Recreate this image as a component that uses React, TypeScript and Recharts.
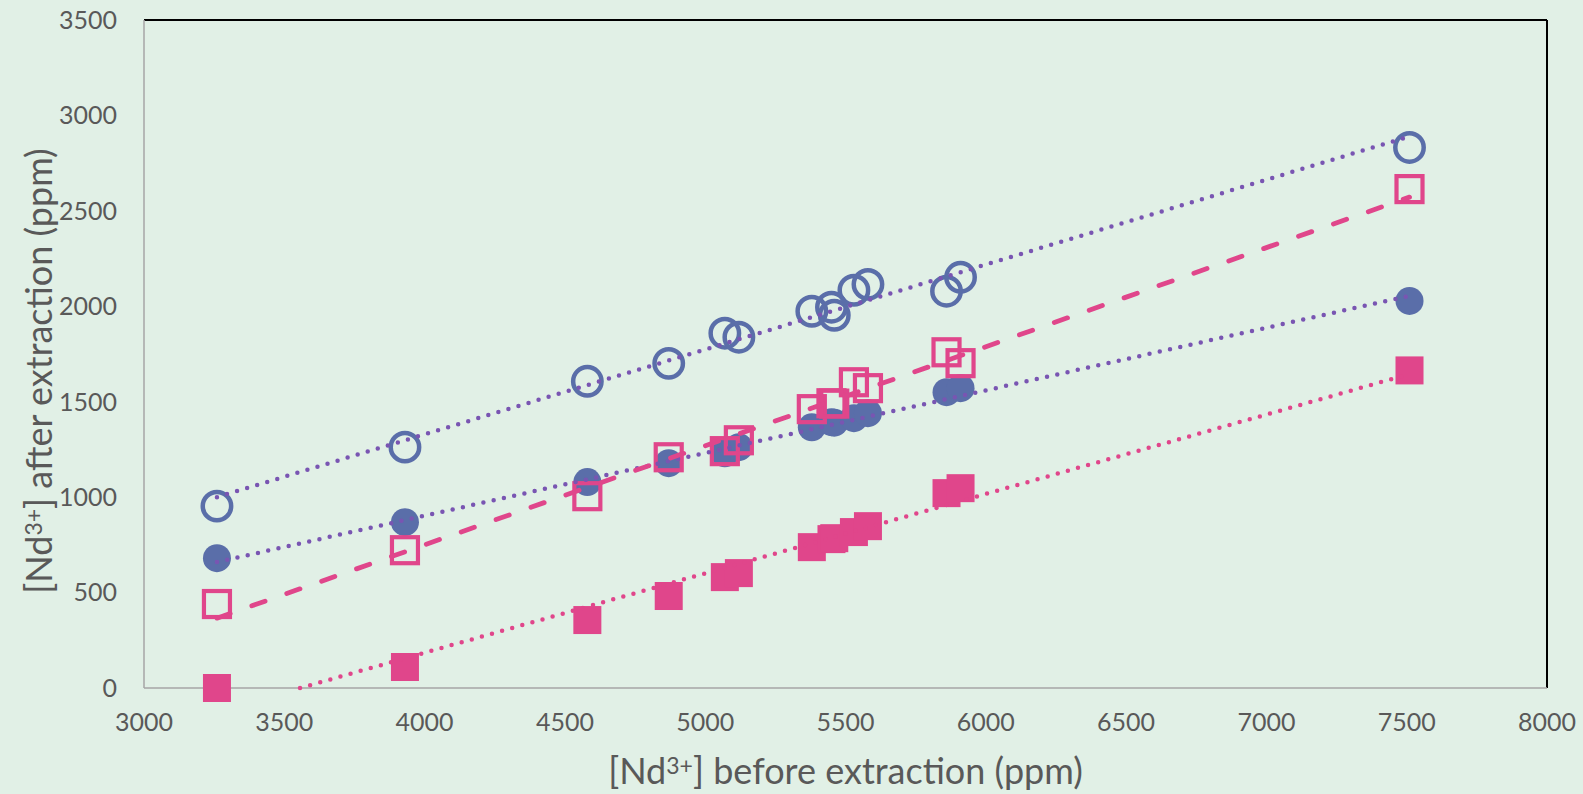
import React from 'react';
import { ScatterChart, Scatter, XAxis, YAxis, ReferenceLine, Label } from 'recharts';

// sample concentrations before extraction (ppm), shared by all four series
const beforePpm = [3260, 3930, 4580, 4870, 5070, 5120, 5380, 5450, 5460, 5530, 5580, 5860, 5910, 7510];

// concentrations after extraction (ppm)
const openCircleAfter = [953, 1262, 1607, 1701, 1859, 1838, 1974, 1995, 1953, 2084, 2115, 2079, 2152, 2832];
const filledCircleAfter = [680, 869, 1079, 1178, 1230, 1262, 1366, 1393, 1390, 1414, 1440, 1550, 1571, 2028];
const openSquareAfter = [440, 722, 1005, 1209, 1241, 1298, 1461, 1492, 1490, 1602, 1571, 1759, 1702, 2614];
const filledSquareAfter = [0, 110, 356, 482, 581, 602, 738, 780, 785, 817, 848, 1021, 1047, 1664];

// trend line end points, as drawn in the figure
const openCircleTrendX = [3260, 7510];
const openCircleTrendY = [1000, 2890];
const filledCircleTrendX = [3260, 7510];
const filledCircleTrendY = [660, 2055];
const openSquareTrendX = [3260, 7510];
const openSquareTrendY = [366, 2572];
const filledSquareTrendX = [3556, 7510];
const filledSquareTrendY = [0, 1645];

const xTicks = [3000, 3500, 4000, 4500, 5000, 5500, 6000, 6500, 7000, 7500, 8000];
const yTicks = [0, 500, 1000, 1500, 2000, 2500, 3000, 3500];

const BLUE = '#5a6ea9';
const PINK = '#e0468b';
const PURPLE = '#7955b2';
const TEXT = '#595959';
const BG = '#e1f0e6';
const FONT = 'Lato, "Open Sans", sans-serif';

const toPoints = (xs: number[], ys: number[]) => xs.map((x, i) => ({ x, y: ys[i] }));

const OpenCircle = (p: any) => (
    <circle cx={p.cx} cy={p.cy} r={14.2} fill="none" stroke={BLUE} strokeWidth={4.5} />
);
const FilledCircle = (p: any) => <circle cx={p.cx} cy={p.cy} r={14} fill={BLUE} />;
const OpenSquare = (p: any) => (
    <rect x={p.cx - 13} y={p.cy - 13} width={26} height={26} fill="none" stroke={PINK} strokeWidth={4.2} />
);
const FilledSquare = (p: any) => <rect x={p.cx - 14} y={p.cy - 14} width={28} height={28} fill={PINK} />;
const NoDot = () => <g />;

const dotted = (color: string) => ({
    stroke: color,
    strokeWidth: 4.5,
    strokeDasharray: '0 10.5',
    strokeLinecap: 'round' as const,
    fill: 'none',
});

const XTitle = (props: any) => {
    const vb = props.viewBox;
    return (
        <text x={vb.x + vb.width / 2} y={vb.y + vb.height - 10} textAnchor="middle" fill={TEXT} fontSize={36} fontFamily={FONT}>
            [Nd<tspan dy={-10} fontSize={23}>3+</tspan><tspan dy={10}>] before extraction (ppm)</tspan>
        </text>
    );
};

const YTitle = () => (
    <text x={52} y={371} transform="rotate(-90 52 371)" textAnchor="middle" fill={TEXT} fontSize={36} fontFamily={FONT}>
        [Nd<tspan dy={-10} fontSize={23}>3+</tspan><tspan dy={10}>] after extraction (ppm)</tspan>
    </text>
);

const App: React.FC = () => {
    const tickStyle = { fill: TEXT, fontSize: 25, fontFamily: FONT };
    return (
        <div style={{ position: 'absolute', left: 0, top: 0, width: 1583, height: 794, background: BG }}>
            <ScatterChart width={1583} height={794} margin={{ top: 20, right: 36, left: 0, bottom: 0 }}>
                <XAxis
                    type="number"
                    dataKey="x"
                    domain={[3000, 8000]}
                    ticks={xTicks}
                    height={106}
                    tickLine={false}
                    tickSize={0}
                    tickMargin={25}
                    tick={tickStyle}
                    axisLine={{ stroke: '#a6a6a6', strokeWidth: 1.5 }}
                >
                    <Label content={XTitle} />
                </XAxis>
                <YAxis
                    type="number"
                    dataKey="y"
                    domain={[0, 3500]}
                    ticks={yTicks}
                    width={144}
                    tickLine={false}
                    tickSize={0}
                    tickMargin={27}
                    tick={tickStyle}
                    axisLine={{ stroke: '#a6a6a6', strokeWidth: 1.5 }}
                >
                    <Label content={YTitle} />
                </YAxis>
                <ReferenceLine y={3500} stroke="#000" strokeWidth={2} />
                <ReferenceLine x={8000} stroke="#000" strokeWidth={2} />

                <Scatter data={toPoints(beforePpm, openCircleAfter)} shape={OpenCircle} isAnimationActive={false} />
                <Scatter data={toPoints(beforePpm, filledCircleAfter)} shape={FilledCircle} isAnimationActive={false} />
                <Scatter data={toPoints(beforePpm, openSquareAfter)} shape={OpenSquare} isAnimationActive={false} />
                <Scatter data={toPoints(beforePpm, filledSquareAfter)} shape={FilledSquare} isAnimationActive={false} />

                <Scatter data={toPoints(openCircleTrendX, openCircleTrendY)} shape={NoDot} line={dotted(PURPLE)} isAnimationActive={false} />
                <Scatter data={toPoints(filledCircleTrendX, filledCircleTrendY)} shape={NoDot} line={dotted(PURPLE)} isAnimationActive={false} />
                <Scatter
                    data={toPoints(openSquareTrendX, openSquareTrendY)}
                    shape={NoDot}
                    line={{ stroke: PINK, strokeWidth: 4.8, strokeDasharray: '14 23', strokeLinecap: 'round', fill: 'none' }}
                    isAnimationActive={false}
                />
                <Scatter data={toPoints(filledSquareTrendX, filledSquareTrendY)} shape={NoDot} line={dotted(PINK)} isAnimationActive={false} />
            </ScatterChart>
        </div>
    );
};

export default App;
